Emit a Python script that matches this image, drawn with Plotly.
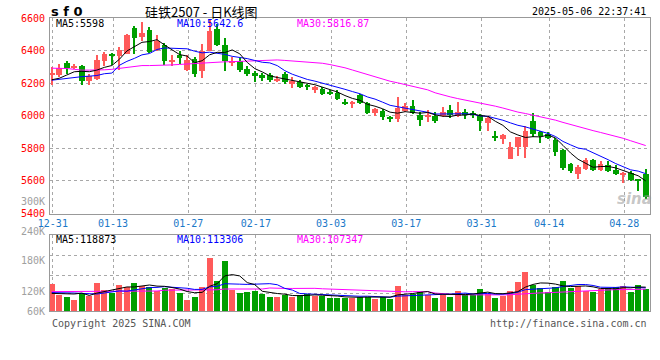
import plotly.graph_objects as go

# ---------------- data ----------------
dates = ["12-31", "01-02", "01-03", "01-06", "01-07", "01-08", "01-09", "01-10", "01-13", "01-14",
         "01-15", "01-16", "01-17", "01-20", "01-21", "01-22", "01-23", "01-24", "01-27", "02-05",
         "02-06", "02-07", "02-10", "02-11", "02-12", "02-13", "02-14", "02-17", "02-18", "02-19",
         "02-20", "02-21", "02-24", "02-25", "02-26", "02-27", "02-28", "03-03", "03-04", "03-05",
         "03-06", "03-07", "03-10", "03-11", "03-12", "03-13", "03-14", "03-17", "03-18", "03-19",
         "03-20", "03-21", "03-24", "03-25", "03-26", "03-27", "03-28", "03-31", "04-01", "04-02",
         "04-03", "04-07", "04-08", "04-09", "04-10", "04-11", "04-14", "04-15", "04-16", "04-17",
         "04-18", "04-21", "04-22", "04-23", "04-24", "04-25", "04-28", "04-29", "04-30", "05-06"]

opens = [6252, 6250, 6325, 6292, 6308, 6213, 6225, 6339, 6382, 6365,
         6380, 6540, 6481, 6524, 6406, 6437, 6333, 6374, 6282, 6349,
         6274, 6400, 6530, 6437, 6321, 6335, 6284, 6260, 6250, 6250,
         6217, 6254, 6195, 6207, 6182, 6156, 6164, 6148, 6142, 6087,
         6071, 6126, 6081, 6017, 6030, 5985, 5979, 6030, 6060, 6006,
         5990, 6000, 6000, 6034, 6000, 6020, 6018, 6006, 5955, 5870,
         5857, 5735, 5810, 5807, 5965, 5902, 5890, 5851, 5788, 5705,
         5644, 5674, 5731, 5668, 5699, 5666, 5640, 5650, 5605, 5644]
highs = [6298, 6315, 6339, 6319, 6312, 6258, 6370, 6394, 6386, 6424,
         6500, 6552, 6575, 6545, 6494, 6447, 6370, 6400, 6370, 6363,
         6441, 6589, 6563, 6477, 6359, 6355, 6304, 6274, 6264, 6262,
         6243, 6270, 6237, 6217, 6197, 6180, 6176, 6160, 6156, 6105,
         6090, 6136, 6087, 6046, 6040, 6000, 6116, 6081, 6095, 6020,
         6034, 6020, 6056, 6064, 6085, 6040, 6030, 6010, 5990, 5904,
         5888, 5837, 5872, 5939, 6015, 5905, 5900, 5863, 5795, 5710,
         5700, 5741, 5735, 5721, 5725, 5695, 5655, 5660, 5612, 5674]
lows = [6191, 6240, 6258, 6284, 6191, 6191, 6220, 6304, 6313, 6278,
        6376, 6380, 6457, 6388, 6400, 6310, 6304, 6319, 6275, 6237,
        6233, 6395, 6430, 6274, 6304, 6270, 6243, 6207, 6213, 6207,
        6207, 6197, 6172, 6170, 6156, 6140, 6126, 6126, 6095, 6066,
        6046, 6075, 6010, 6000, 5973, 5959, 5959, 6026, 6010, 5939,
        5959, 5955, 5993, 5989, 5995, 5979, 5985, 5908, 5904, 5847,
        5827, 5733, 5750, 5741, 5868, 5830, 5855, 5755, 5666, 5650,
        5609, 5670, 5660, 5660, 5655, 5636, 5585, 5601, 5540, 5487]
closes = [6256, 6295, 6292, 6308, 6213, 6243, 6345, 6376, 6365, 6404,
          6498, 6478, 6508, 6390, 6461, 6335, 6337, 6355, 6343, 6258,
          6396, 6518, 6432, 6335, 6339, 6278, 6254, 6241, 6233, 6219,
          6227, 6209, 6213, 6174, 6180, 6176, 6134, 6138, 6101, 6071,
          6087, 6077, 6014, 6044, 5993, 5982, 6046, 6060, 6014, 5976,
          6006, 5970, 6020, 6004, 6020, 6006, 6008, 5965, 5985, 5866,
          5882, 5807, 5870, 5908, 5890, 5876, 5866, 5776, 5682, 5658,
          5684, 5731, 5664, 5705, 5660, 5640, 5650, 5605, 5603, 5502]
volumes = [138000, 85000, 72000, 60000, 92000, 80000, 143000, 110000, 93000, 133000,
           122000, 143000, 130000, 122000, 105000, 117000, 113000, 92000, 60000, 75000,
           125000, 267000, 155000, 255000, 108000, 92000, 100000, 105000, 88000, 72000,
           72000, 83000, 72000, 84000, 87000, 76000, 76000, 68000, 67000, 66000,
           66000, 75000, 75000, 63000, 71000, 63000, 130000, 84000, 88000, 100000,
           85000, 67000, 83000, 72000, 104000, 83000, 83000, 115000, 87000, 67000,
           80000, 104000, 146000, 200000, 134000, 117000, 100000, 122000, 155000, 117000,
           130000, 102000, 100000, 113000, 117000, 122000, 130000, 97000, 135000, 112000]

# moving-average values at the start of the window (they depend on earlier, unseen days)
ma5_head = [6221, 6230, 6250, 6270]
ma10_head = [6218, 6224, 6231, 6236, 6240, 6243, 6247, 6258, 6262]
ma30_head = [6292, 6292, 6290, 6285, 6280, 6280, 6280, 6282, 6285, 6290,
             6296, 6304, 6308, 6308, 6308, 6309, 6312, 6315, 6318, 6322,
             6326, 6328, 6330, 6331, 6332, 6334, 6335, 6336, 6338]
vma5_head = [88000, 88000, 87000, 85000]
vma10_head = [92000, 92000, 91000, 90000, 88000, 85000, 85000, 90000, 95000]
vma30_head = [97000, 97000, 97000, 97000, 97000, 97000, 97000, 97000, 97000, 97000,
              97000, 100000, 100000, 100000, 100000, 104000, 104000, 104000, 104000, 104000,
              106000, 106000, 106000, 110000, 110000, 110000, 110000, 110000, 110000]

x_labels = ["12-31", "01-13", "01-27", "02-17", "03-03", "03-17", "03-31", "04-14", "04-28"]
price_ticks = [5400, 5600, 5800, 6000, 6200, 6400, 6600]
vol_labels = ["300K", "240K", "180K", "120K", "60K"]

title_code = "s f 0"
title_name = "硅铁2507 - 日K线图"
stamp = "2025-05-06 22:37:41"
legend_price = ["MA5:5598", "MA10:5642.6", "MA30:5816.87"]
legend_vol = ["MA5:118873", "MA10:113306", "MA30:107347"]
footer_left = "Copyright 2025 SINA.COM"
footer_right = "http://finance.sina.com.cn"

# ---------------- derived ----------------
def moving_avg(vals, head, w):
    out = []
    for i in range(len(vals)):
        if i < w - 1:
            out.append(head[i])
        else:
            out.append(sum(vals[i - w + 1:i + 1]) / w)
    return out

n = len(dates)
idx = list(range(n))
RED = "#ff5a5a"
GREEN = "#009f00"
cols = [RED if c >= o else GREEN for o, c in zip(opens, closes)]
ma5 = moving_avg(closes, ma5_head, 5)
ma10 = moving_avg(closes, ma10_head, 10)
ma30 = moving_avg(closes, ma30_head, 30)
vma5 = moving_avg(volumes, vma5_head, 5)
vma10 = moving_avg(volumes, vma10_head, 10)
vma30 = moving_avg(volumes, vma30_head, 30)

W, H = 660, 360
def PX(p):
    return p / W
def PY(p):
    return 1 - p / H

MONO = "DejaVu Sans Mono"

fig = go.Figure()
# wicks
fig.add_trace(go.Bar(x=idx, base=lows, y=[h - l for h, l in zip(highs, lows)], width=0.14,
                     marker=dict(color=cols, line=dict(width=0)), xaxis="x", yaxis="y",
                     hoverinfo="skip"))
# bodies
fig.add_trace(go.Bar(x=idx, base=[min(o, c) for o, c in zip(opens, closes)],
                     y=[max(abs(c - o), 6) for o, c in zip(opens, closes)], width=0.76,
                     marker=dict(color=cols, line=dict(width=0)), xaxis="x", yaxis="y"))
for series, color in ((ma30, "#ff00ff"), (ma10, "#0000ff"), (ma5, "#000000")):
    fig.add_trace(go.Scatter(x=idx, y=series, mode="lines", line=dict(color=color, width=1),
                             xaxis="x", yaxis="y"))
# volume
fig.add_trace(go.Bar(x=idx, y=volumes, width=0.8, marker=dict(color=cols, line=dict(width=0)),
                     xaxis="x2", yaxis="y2"))
for series, color in ((vma30, "#ff00ff"), (vma10, "#0000ff"), (vma5, "#000000")):
    fig.add_trace(go.Scatter(x=idx, y=series, mode="lines", line=dict(color=color, width=1),
                             xaxis="x2", yaxis="y2"))

tick_pos = [dates.index(d) + 0.15 for d in x_labels]
xr = [-0.23, n - 1 + 0.57]
grid = dict(showgrid=True, gridcolor="#a8a8a8", griddash="dot", gridwidth=1)
frame = dict(showline=True, linecolor="#999999", linewidth=1, mirror=True, zeroline=False,
             automargin=False)

fig.update_layout(
    width=W, height=H, margin=dict(l=0, r=0, t=0, b=0, autoexpand=False),
    paper_bgcolor="white", plot_bgcolor="white", showlegend=False,
    barmode="overlay", bargap=0,
    xaxis=dict(domain=[PX(50), PX(650)], range=xr, anchor="y", tickvals=tick_pos, ticktext=x_labels,
               ticks="", tickfont=dict(family=MONO, size=10, color="#1a78c8"), **frame, **grid),
    yaxis=dict(domain=[PY(213.5), PY(18)], range=[price_ticks[0], price_ticks[-1]], anchor="x",
               tickvals=price_ticks, ticktext=[str(v) for v in price_ticks], ticks="",
               tickfont=dict(family=MONO, size=10, color="#ff0000"), ticklabelstandoff=2,
               **frame, **grid),
    xaxis2=dict(domain=[PX(50), PX(650)], range=xr, anchor="y2", matches="x", tickvals=tick_pos,
                showticklabels=False, ticks="", **frame, **grid),
    yaxis2=dict(domain=[PY(311), PY(234.5)], range=[0, 382500], anchor="x2",
                tickvals=[90000, 180000, 276500], showticklabels=False, ticks="", **frame, **grid),
)

ann = []
def txt(s, x, y, size=10, color="black", anchor="left", family=MONO, bold=False, italic=False):
    t = "<b>%s</b>" % s if bold else s
    if italic:
        t = "<i>%s</i>" % t
    ann.append(dict(text=t, x=PX(x), y=PY(y), xref="paper", yref="paper", xanchor=anchor,
                    yanchor="middle", showarrow=False, font=dict(family=family, size=size, color=color)))

txt(title_code, 49, 12, size=13, family="DejaVu Sans", bold=True)
txt(title_name, 201, 12, size=13, anchor="center", family="Noto Sans CJK SC")
txt(stamp, 648, 12, size=10, anchor="right")
txt(legend_price[0], 54, 24)
txt(legend_price[1], 174.5, 24, color="#0000ff")
txt(legend_price[2], 295, 24, color="#ff00ff")
txt(legend_vol[0], 54, 239)
txt(legend_vol[1], 174.5, 239, color="#0000ff")
txt(legend_vol[2], 295, 239, color="#ff00ff")
for lab, yy in zip(vol_labels, [201, 231, 260.5, 291, 311]):
    txt(lab, 46.5, yy, color="#a0a0a0", anchor="right")
txt(footer_left, 50, 323.5, color="#555555")
txt(footer_right, 648.5, 323.5, color="#555555", anchor="right")
txt("sina", 634, 199, size=15, color="rgba(150,150,150,0.55)", anchor="center",
    family="DejaVu Sans", bold=True, italic=True)
fig.update_layout(annotations=ann)

fig.write_html("out.html", config={"displayModeBar": False},
               post_script="document.body.style.margin='0';document.body.style.padding='0';")
